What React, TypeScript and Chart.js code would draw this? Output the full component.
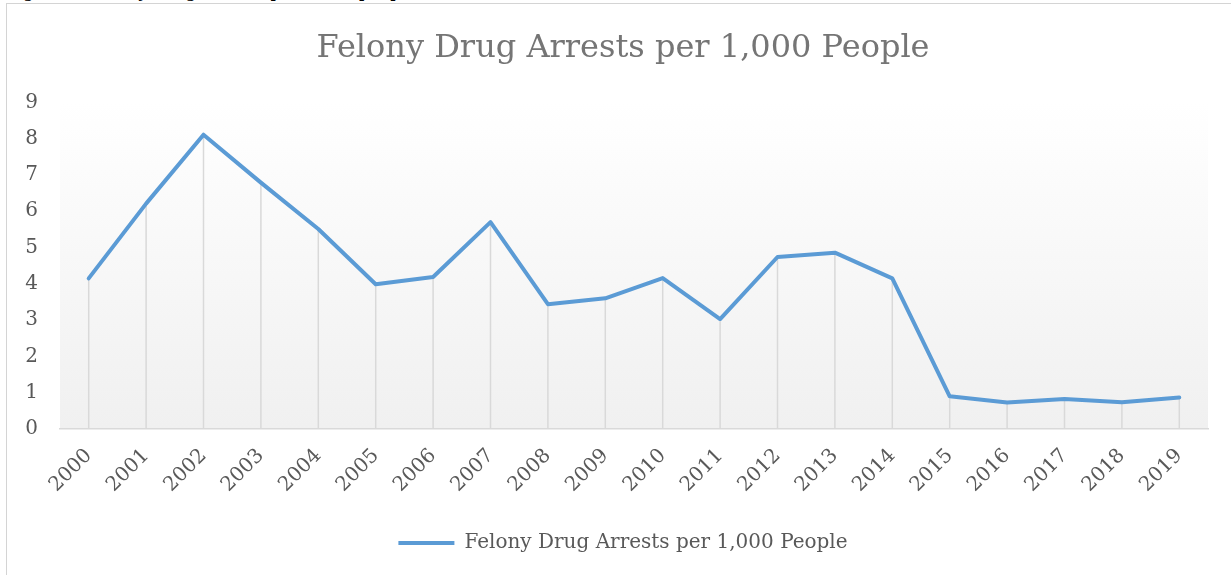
import React, { useEffect, useRef } from "react";
import { Chart, registerables } from "chart.js";

Chart.register(...registerables);

const years = [
  "2000", "2001", "2002", "2003", "2004", "2005", "2006", "2007", "2008", "2009",
  "2010", "2011", "2012", "2013", "2014", "2015", "2016", "2017", "2018", "2019",
];
const arrestsPer1000 = [
  4.15, 6.21, 8.11, 6.79, 5.51, 3.99, 4.19, 5.7, 3.44, 3.6,
  4.16, 3.03, 4.74, 4.86, 4.15, 0.9, 0.73, 0.83, 0.74, 0.87,
];
const yMin = 0;
const yMax = 9;
const yStep = 1;
const chartTitle = "Felony Drug Arrests per 1,000 People";
const seriesLabel = "Felony Drug Arrests per 1,000 People";
const caption = "Figure 1: Felony Drug Arrests per 1,000 people (2000-2019)";

const FONT = "'DejaVu Serif', serif";

const plotBackground = {
  id: "plotBackground",
  beforeDraw(chart: any) {
    const { ctx, chartArea } = chart;
    if (!chartArea) return;
    const g = ctx.createLinearGradient(0, chartArea.top, 0, chartArea.bottom);
    g.addColorStop(0, "#ffffff");
    g.addColorStop(1, "#f0f0f0");
    ctx.save();
    ctx.fillStyle = g;
    ctx.fillRect(chartArea.left, chartArea.top, chartArea.width, chartArea.height);
    ctx.restore();
  },
};

const dropLines = {
  id: "dropLines",
  beforeDatasetsDraw(chart: any) {
    const { ctx } = chart;
    const meta = chart.getDatasetMeta(0);
    const base = chart.scales.y.getPixelForValue(0);
    ctx.save();
    ctx.strokeStyle = "#d9d9d9";
    ctx.lineWidth = 1.5;
    meta.data.forEach((pt: any) => {
      ctx.beginPath();
      ctx.moveTo(pt.x, pt.y);
      ctx.lineTo(pt.x, base);
      ctx.stroke();
    });
    ctx.restore();
  },
};

export default function App() {
  const canvasRef = useRef<HTMLCanvasElement | null>(null);

  useEffect(() => {
    document.body.style.margin = "0";
    const canvas = canvasRef.current;
    if (!canvas) return;
    const chart = new Chart(canvas, {
      type: "line",
      data: {
        labels: years,
        datasets: [
          {
            label: seriesLabel,
            data: arrestsPer1000,
            borderColor: "#5b9bd5",
            backgroundColor: "#5b9bd5",
            borderWidth: 4,
            pointRadius: 0,
            pointHoverRadius: 0,
            tension: 0,
            borderCapStyle: "round",
            borderJoinStyle: "round",
            fill: false,
            yAxisID: "y",
          },
        ],
      },
      options: {
        animation: false,
        responsive: false,
        devicePixelRatio: 1,
        layout: { padding: { left: 0, right: 0, top: 0, bottom: 12 } },
        plugins: {
          title: {
            display: true,
            text: chartTitle,
            color: "#757575",
            font: { family: FONT, size: 32, weight: "normal" },
            padding: { top: 25, bottom: 35 },
          },
          legend: {
            position: "bottom",
            labels: {
              usePointStyle: true,
              pointStyle: "line",
              pointStyleWidth: 56,
              color: "#595959",
              font: { family: FONT, size: 20 },
              padding: 10,
            },
          },
          tooltip: { enabled: false },
        },
        scales: {
          x: {
            offset: true,
            grid: { display: false, drawTicks: false },
            border: { display: true, color: "#d9d9d9", width: 1.5 },
            ticks: {
              color: "#595959",
              font: { family: FONT, size: 20 },
              minRotation: 45,
              maxRotation: 45,
              padding: 15,
              autoSkip: false,
            },
            afterFit(s: any) {
              s.height = 94;
            },
          },
          y: {
            type: "linear",
            position: "left",
            min: yMin,
            max: yMax,
            grid: { display: false, drawTicks: false },
            border: { display: false },
            ticks: {
              stepSize: yStep,
              color: "#595959",
              font: { family: FONT, size: 20 },
              padding: 22,
            },
            afterFit(s: any) {
              s.width = 53;
            },
          },
          yRight: {
            type: "linear",
            position: "right",
            min: yMin,
            max: yMax,
            grid: { display: false, drawTicks: false },
            border: { display: false },
            ticks: { display: false },
            afterFit(s: any) {
              s.width = 31;
            },
          },
        },
      },
      plugins: [plotBackground, dropLines],
    });
    return () => chart.destroy();
  }, []);

  return (
    <div
      style={{
        position: "fixed",
        left: 0,
        top: 0,
        width: 1231,
        height: 575,
        overflow: "hidden",
        background: "#ffffff",
      }}
    >
      <div
        style={{
          position: "absolute",
          left: 6,
          top: -17,
          fontFamily: FONT,
          fontSize: 17,
          lineHeight: "17px",
          color: "#000",
          whiteSpace: "nowrap",
        }}
      >
        {caption}
      </div>
      <div
        style={{
          position: "absolute",
          left: 6,
          top: 3,
          width: 1260,
          height: 620,
          border: "1px solid #d4d4d4",
          background: "#ffffff",
        }}
      >
        <canvas
          ref={canvasRef}
          width={1232}
          height={571}
          style={{ position: "absolute", left: 0, top: 0, width: 1232, height: 571 }}
        />
      </div>
    </div>
  );
}
